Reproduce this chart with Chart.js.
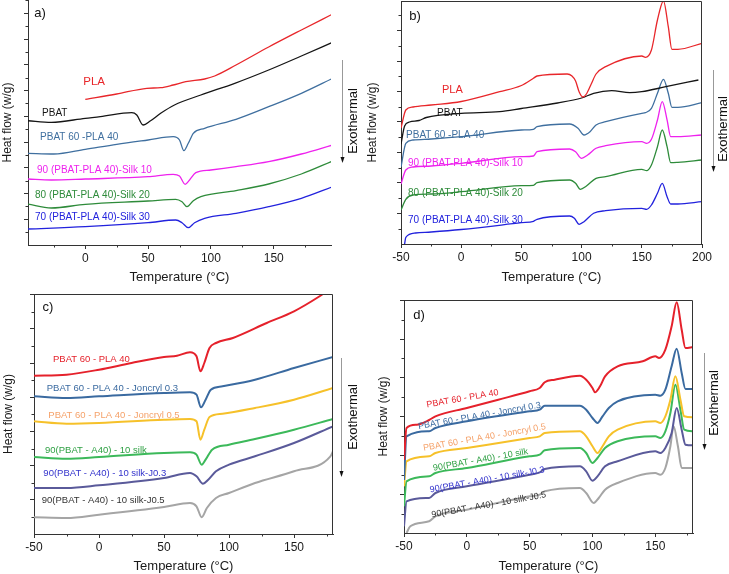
<!DOCTYPE html>
<html>
<head>
<meta charset="utf-8">
<script src="https://cdn.jsdelivr.net/npm/chart.js@4.4.0/dist/chart.umd.min.js"></script>
<style>
  body { margin: 0; background: #fff; width: 729px; height: 574px; overflow: hidden; position: relative; }
  canvas { position: absolute; }
</style>
</head>
<body>
<canvas id="chartA" width="365" height="287" style="left:0;top:0"></canvas>
<canvas id="chartB" width="364" height="287" style="left:365px;top:0"></canvas>
<canvas id="chartC" width="365" height="287" style="left:0;top:287px"></canvas>
<canvas id="chartD" width="364" height="287" style="left:365px;top:287px"></canvas>
<script>
// heat flow in arbitrary units (curves are offset, no y values printed)
// panel a) cooling
const a_PLA    = [[0,145.7],[25,151],[49,156.7],[60,157.3],[70,160],[80,163.3],[95,166],[103,169],[120,180],[146,198],[172,215],[197,231]];
const a_PBAT   = [[-46,124.3],[-27,122.7],[0,126.7],[12,128.3],[37,132.3],[41,130],[46,120],[52,124.3],[60,131.7],[71,140],[92,150],[119,161.7],[146,175],[172,189],[197,202.7]];
const a_blend  = [[-46,91.7],[-25,91],[0,95.7],[25,100.7],[50,105],[70,108.3],[75,105],[78.5,94.3],[82,101.7],[86,111.7],[95,116.7],[120,125.7],[146,138.3],[172,151.7],[197,166.7]];
const a_silk10 = [[-46,66],[-27,65],[0,66],[50,68.3],[70,70.7],[75,69],[79.5,60.7],[83,65],[88,72.3],[100,75],[120,78.3],[146,83.3],[172,91],[197,100]];
const a_silk20 = [[-46,41],[-27,37],[0,40.7],[50,44],[72,45.7],[77,43.3],[81,38.3],[86,44.3],[92,48.3],[120,54.3],[146,61],[172,71],[197,84]];
const a_silk30 = [[-46,16],[0,18.3],[50,22.3],[72,25],[77,22.3],[82,17.3],[87,22.3],[95,26.7],[120,31.7],[146,38.3],[172,46.7],[197,58.3]];

// panel b) second heating
const b_PLA    = [[-50,116],[-46,134],[-40,137],[-25,139],[0,142.5],[32,152.3],[50,158.5],[60,165.7],[63,168],[88,170],[92,168],[95,163],[98,152],[101,147],[104,150],[108,160],[112,170],[120,177.3],[150,188],[153,186.7],[158,194],[163,224],[168,243],[172,217.3],[175,194.7],[180,194.7],[200,200.7]];
const b_PBAT   = [[-50,100],[-47,118],[-43,122],[-35,123.5],[-29,126.5],[0,130.7],[32,132.3],[50,135.5],[80,141],[100,146],[110,150.7],[125,153.3],[140,151.3],[150,152.3],[170,157.3],[197,164]];
const b_blend  = [[-50,77],[-46,100.7],[-40,104],[-25,105],[0,107.3],[50,114],[60,114.7],[63,117.3],[90,120],[97,115.7],[102,109],[107,112.3],[112,119],[120,122.3],[150,130.7],[153,131.3],[158,135.7],[163,150.7],[168,164.7],[172,150.7],[175,136.7],[180,136.7],[200,141.3]];
const b_silk10 = [[-50,60],[-46,74],[-40,77],[-25,78],[0,80.7],[50,87.3],[60,88],[63,92.3],[90,95],[95,92.3],[100,85.7],[105,89],[112,95.7],[120,98.3],[150,102.3],[154,100.7],[158,104.7],[163,124],[167,142.3],[171,124],[174,107.3],[180,107.3],[200,109]];
const b_silk20 = [[-50,34],[-46,44.7],[-40,49],[-25,50],[0,52.3],[50,58.3],[60,58.7],[63,61.3],[90,64],[95,60.7],[99,54.7],[104,58],[112,65.7],[120,67.3],[150,74.7],[154,73.3],[158,79],[163,97.3],[167,114],[171,97.3],[174,81.3],[180,81.7],[200,84]];
const b_silk30 = [[-47,0],[-46,6.7],[-38,11],[-25,12],[0,14.5],[50,21.3],[60,22.7],[63,24.7],[90,28],[94,25.7],[98,19.7],[102,22.3],[110,30.7],[120,33.3],[150,35.7],[154,34.7],[158,39],[163,50.7],[167,60.7],[171,47.3],[174,40],[180,40],[200,42.3]];

// panel c) cooling, Joncryl series
const c_blend   = [[-50,158.3],[-25,159.3],[0,164.3],[25,171],[50,177],[60,178.3],[70,181.7],[75,177.7],[78,162.7],[81,171],[85,186],[90,191],[103,196],[129,211],[150,222.7],[170,238],[180,247]];
const c_J03     = [[-50,137.7],[-25,136],[0,137.7],[50,141],[70,141.7],[75,139.3],[78.5,126.7],[82,134.3],[86,144.3],[95,147.7],[120,154.3],[150,166],[180,177]];
const c_J05     = [[-50,112.7],[-25,110.3],[0,111],[50,114.3],[70,115],[75,112.7],[78,94.3],[81,104.3],[85,117],[95,120.3],[120,126],[150,134.3],[180,146]];
const c_silk    = [[-50,77],[-25,75.3],[0,77],[50,81],[70,81.7],[75,79.3],[79,69.3],[82,74.3],[87,84.3],[100,89.3],[120,95],[150,104.3],[180,115]];
const c_silkJ03 = [[-50,46],[-25,46],[0,48.7],[50,56],[70,61],[75,57.7],[80,50.3],[84,54.3],[90,62.7],[100,69.3],[120,77.7],[150,91],[180,107.7]];
const c_silkJ05 = [[-50,16.7],[-25,16],[0,19.3],[50,27],[70,31],[75,27.7],[79,16.7],[83,26],[90,36],[100,41],[120,51],[150,62.7],[178,77.7],[180,82.7]];

// panel d) second heating, Joncryl series
const d_blend   = [[-50,73.3],[-48,105],[-40,108.3],[-30,113],[-25,116.7],[0,125],[25,133.3],[50,141.7],[58,145],[62,150.7],[70,153.3],[90,157.3],[95,153.3],[100,145],[102,140.7],[106,146.7],[110,156.7],[120,166.7],[140,171.7],[150,176.7],[153,175],[158,183.3],[163,206.7],[167,230.7],[171,203.3],[174,185],[180,186]];
const d_J03     = [[-50,53],[-48,96.7],[-30,101.7],[-25,105],[0,111.7],[50,121.7],[58,123.3],[62,127.3],[90,127.3],[95,123.3],[100,115],[104,110],[108,116.7],[113,125],[120,131.7],[150,138.3],[154,137.3],[158,143.3],[163,166.7],[167,184.3],[171,160],[174,144],[180,144]];
const d_J05     = [[-50,46.7],[-48,71.7],[-30,76.7],[-25,80],[0,85],[50,95],[58,96.7],[62,100],[90,101.7],[95,96.7],[100,86.7],[104,80],[108,86.7],[113,96.7],[120,103.3],[150,111.7],[154,110],[158,116.7],[162,133.3],[166,156.7],[170,133.3],[173,116.7],[180,115.7]];
const d_silk    = [[-50,26.7],[-48,51.7],[-30,56.7],[-25,60],[0,65],[50,76.7],[58,78.3],[62,82.7],[90,85],[95,80],[100,70],[104,75],[110,85],[120,91.7],[150,96.7],[154,95],[158,101.7],[162,120],[166,148.3],[170,123.3],[173,103.3],[180,101.7]];
const d_silkJ03 = [[-50,6.7],[-48,31.7],[-30,35],[-25,40],[0,46.7],[50,58.3],[58,60.7],[62,64],[90,66.7],[95,61.7],[100,52.3],[104,56.7],[110,66.7],[120,71.7],[150,81.7],[154,80],[158,85],[163,100],[167,125],[171,103.3],[174,88.3],[180,87.7]];
const d_silkJ05 = [[-48,0],[-45,6.7],[-30,11.7],[-25,16.7],[0,23.3],[50,36.7],[58,38.3],[62,41.7],[90,45],[95,40],[101,30],[105,35],[110,43.3],[120,50],[150,60],[154,58.3],[158,65],[162,86.7],[164.5,106.7],[168,86.7],[171,65],[180,65]];

const ticksAB = [-50, 0, 50, 100, 150, 200];
const ticksCD = [-50, 0, 50, 100, 150];
const minorX  = [-25, 25, 75, 125, 175];

const FONT = '"Liberation Sans", Arial, sans-serif';
const C1 = { red: '#e8262a', black: '#151515', steel: '#3f6f9f', magenta: '#ee22ee', green: '#2e8b3a', blue: '#2222dd' };
const C2 = { red: '#e5212b', steel: '#3a6aa0', yellow: '#f6c12a', green: '#3cb95a', slate: '#5a5a9a', grey: '#a5a5a5' };

const decor = {
  id: 'decor',
  afterDraw(chart, args, o) {
    const ctx = chart.ctx, ca = chart.chartArea, xs = chart.scales.x, ys = chart.scales.y;
    ctx.save();
    ctx.strokeStyle = '#333';
    ctx.lineWidth = 1;
    ctx.beginPath();
    if (o.frame) {
      ctx.moveTo(ca.left, ca.top + 0.5);
      ctx.lineTo(ca.right - 0.5, ca.top + 0.5);
      ctx.lineTo(ca.right - 0.5, ca.bottom);
    }
    // minor ticks
    minorX.forEach(v => {
      if (v < xs.min || v > xs.max) return;
      const px = Math.round(xs.getPixelForValue(v)) + 0.5;
      ctx.moveTo(px, ca.bottom); ctx.lineTo(px, ca.bottom + 2.5);
    });
    for (let v = o.yStep / 2; v < ys.max; v += o.yStep) {
      const py = Math.round(ys.getPixelForValue(v)) + 0.5;
      ctx.moveTo(ca.left, py); ctx.lineTo(ca.left - 2.5, py);
    }
    ctx.stroke();

    // curve labels
    o.labels.forEach(l => {
      ctx.save();
      ctx.font = l.size + 'px ' + FONT;
      ctx.fillStyle = l.color;
      ctx.textAlign = 'left';
      ctx.textBaseline = 'middle';
      ctx.translate(xs.getPixelForValue(l.x), ys.getPixelForValue(l.y));
      if (l.rot) ctx.rotate(l.rot * Math.PI / 180);
      ctx.fillText(l.text, 0, 0);
      ctx.restore();
    });

    // panel letter
    ctx.font = '13px ' + FONT;
    ctx.fillStyle = '#111';
    ctx.textAlign = 'center';
    ctx.textBaseline = 'middle';
    ctx.fillText(o.letter[0], o.letter[1], o.letter[2]);

    // exothermal arrow
    const e = o.exo;
    ctx.strokeStyle = '#999';
    ctx.beginPath();
    ctx.moveTo(e.x + 0.5, e.y1); ctx.lineTo(e.x + 0.5, e.y2 - 5);
    ctx.stroke();
    ctx.fillStyle = '#111';
    ctx.beginPath();
    ctx.moveTo(e.x - 1.5, e.y2 - 6); ctx.lineTo(e.x + 2.5, e.y2 - 6); ctx.lineTo(e.x + 0.5, e.y2);
    ctx.closePath(); ctx.fill();
    ctx.save();
    ctx.translate(e.tx, e.ty);
    ctx.rotate(-Math.PI / 2);
    ctx.font = '13px ' + FONT;
    ctx.fillStyle = '#111';
    ctx.fillText('Exothermal', 0, 0);
    ctx.restore();
    ctx.restore();
  }
};

function makeChart(id, p) {
  const yMajor = [];
  for (let v = p.yStep; v <= p.yMax; v += p.yStep) yMajor.push(v);
  return new Chart(document.getElementById(id), {
    type: 'line',
    data: {
      datasets: p.series.map(s => ({
        data: s[0].map(q => ({ x: q[0], y: q[1] })),
        borderColor: s[1],
        borderWidth: p.lw,
        pointRadius: 0,
        fill: false,
        cubicInterpolationMode: 'monotone'
      }))
    },
    options: {
      responsive: false,
      animation: false,
      layout: { padding: { top: p.padTop, right: p.padRight, left: 0, bottom: 0 } },
      plugins: {
        legend: { display: false },
        tooltip: { enabled: false },
        decor: { frame: p.frame, yStep: p.yStep, labels: p.labels, letter: p.letter, exo: p.exo }
      },
      scales: {
        x: {
          type: 'linear', min: p.xMin, max: p.xMax,
          afterBuildTicks: s => { s.ticks = p.xTicks.map(v => ({ value: v })); },
          afterFit: s => { s.height = p.bottomH; },
          grid: { drawOnChartArea: false, tickLength: 4, tickColor: '#333' },
          border: { color: '#333', width: 1 },
          ticks: { color: '#1a1a1a', font: { size: 12, family: FONT }, padding: 2, maxRotation: 0, autoSkip: false },
          title: { display: true, text: 'Temperature (\u00B0C)', color: '#1a1a1a', font: { size: 13, family: FONT }, padding: { top: 0, bottom: p.xTitlePad } }
        },
        y: {
          type: 'linear', min: 0, max: p.yMax,
          afterBuildTicks: s => { s.ticks = yMajor.map(v => ({ value: v })); },
          afterFit: s => { s.width = p.leftW; },
          grid: { drawOnChartArea: false, tickLength: 4, tickColor: '#333' },
          border: { color: '#333', width: 1 },
          ticks: { display: false },
          title: { display: true, text: 'Heat flow (w/g)', color: '#1a1a1a', font: { size: 12, family: FONT }, padding: { top: p.yTitlePad, bottom: 0 } }
        }
      }
    },
    plugins: [decor]
  });
}

makeChart('chartA', {
  series: [[a_PLA, C1.red], [a_PBAT, C1.black], [a_blend, C1.steel], [a_silk10, C1.magenta], [a_silk20, C1.green], [a_silk30, C1.blue]],
  lw: 1.3, xMin: -45.6, xMax: 195.6, xTicks: [0, 50, 100, 150], yMax: 245, yStep: 25.75,
  padTop: 0, padRight: 34, leftW: 28, bottomH: 42, xTitlePad: 2, yTitlePad: 0, frame: false,
  letter: ['a)', 40, 13],
  exo: { x: 342, y1: 60, y2: 163, tx: 353, ty: 121 },
  labels: [
    { text: 'PLA', x: -1.6, y: 163, color: C1.red, size: 11.5 },
    { text: 'PBAT', x: -34.4, y: 132, color: C1.black, size: 10 },
    { text: 'PBAT 60 -PLA 40', x: -36, y: 108, color: C1.steel, size: 10 },
    { text: '90 (PBAT-PLA 40)-Silk 10', x: -38.4, y: 75, color: C1.magenta, size: 10 },
    { text: '80 (PBAT-PLA 40)-Silk 20', x: -40, y: 50, color: C1.green, size: 10 },
    { text: '70 (PBAT-PLA 40)-Silk 30', x: -40, y: 28, color: C1.blue, size: 10 }
  ]
});

makeChart('chartB', {
  series: [[b_PLA, C1.red], [b_PBAT, C1.black], [b_blend, C1.steel], [b_silk10, C1.magenta], [b_silk20, C1.green], [b_silk30, C1.blue]],
  lw: 1.3, xMin: -50, xMax: 200, xTicks: ticksAB, yMax: 243, yStep: 30.5,
  padTop: 1, padRight: 27, leftW: 36, bottomH: 43, xTitlePad: 2, yTitlePad: 0, frame: true,
  letter: ['b)', 50, 16],
  exo: { x: 348, y1: 70, y2: 172, tx: 358, ty: 129 },
  labels: [
    { text: 'PLA', x: -16, y: 154, color: C1.red, size: 11 },
    { text: 'PBAT', x: -20, y: 131, color: C1.black, size: 10 },
    { text: 'PBAT 60 -PLA 40', x: -45.8, y: 109, color: C1.steel, size: 10 },
    { text: '90 (PBAT-PLA 40)-Silk 10', x: -44.2, y: 81, color: C1.magenta, size: 10 },
    { text: '80 (PBAT-PLA 40)-Silk 20', x: -44.2, y: 51, color: C1.green, size: 10 },
    { text: '70 (PBAT-PLA 40)-Silk 30', x: -44.2, y: 24, color: C1.blue, size: 10 }
  ]
});

makeChart('chartC', {
  series: [[c_blend, C2.red], [c_J03, C2.steel], [c_J05, C2.yellow], [c_silk, C2.green], [c_silkJ03, C2.slate], [c_silkJ05, C2.grey]],
  lw: 2, xMin: -50, xMax: 180, xTicks: ticksCD, yMax: 240, yStep: 34.2,
  padTop: 7, padRight: 32, leftW: 34, bottomH: 40, xTitlePad: 0, yTitlePad: 1, frame: true,
  letter: ['c)', 48, 20],
  exo: { x: 341, y1: 71, y2: 190, tx: 353, ty: 130 },
  labels: [
    { text: 'PBAT 60 - PLA 40', x: -35.4, y: 175, color: '#e5212b', size: 9.5 },
    { text: 'PBAT 60 - PLA 40 - Joncryl 0.3', x: -40.2, y: 145.7, color: '#3a6aa0', size: 9.5 },
    { text: 'PBAT 60 - PLA 40 - Joncryl 0.5', x: -39, y: 119, color: '#f5a26a', size: 9.5 },
    { text: '90(PBAT - A40) - 10 silk', x: -41.5, y: 84, color: '#2ea043', size: 9.5 },
    { text: '90(PBAT - A40) - 10 silk-J0.3', x: -42.8, y: 60.7, color: '#3333cc', size: 9.5 },
    { text: '90(PBAT - A40) - 10 silk-J0.5', x: -44, y: 34, color: '#333333', size: 9.5 }
  ]
});

makeChart('chartD', {
  series: [[d_blend, C2.red], [d_J03, C2.steel], [d_J05, C2.yellow], [d_silk, C2.green], [d_silkJ03, C2.slate], [d_silkJ05, C2.grey]],
  lw: 2, xMin: -50, xMax: 180, xTicks: ticksCD, yMax: 233, yStep: 38.8,
  padTop: 13, padRight: 36, leftW: 39, bottomH: 41, xTitlePad: 0, yTitlePad: 11, frame: true,
  letter: ['d)', 54, 28],
  exo: { x: 339, y1: 66, y2: 163, tx: 349, ty: 116 },
  labels: [
    { text: 'PBAT 60 - PLA 40', x: -32, y: 128, color: '#e5212b', size: 9, rot: -10 },
    { text: 'PBAT 60 - PLA 40 - Joncryl 0.3', x: -38.7, y: 106.3, color: '#3a6aa0', size: 9, rot: -10 },
    { text: 'PBAT 60 - PLA 40 - Joncryl 0.5', x: -34.7, y: 84.7, color: '#f5a26a', size: 9, rot: -10 },
    { text: '90(PBAT - A40) - 10 silk', x: -26.8, y: 64.7, color: '#2ea043', size: 9, rot: -10 },
    { text: '90(PBAT - A40) - 10 silk-J0.3', x: -29.4, y: 43, color: '#3333cc', size: 9, rot: -10 },
    { text: '90(PBAT - A40) - 10 silk-J0.5', x: -28.1, y: 18, color: '#333333', size: 9, rot: -10 }
  ]
});
</script>
</body>
</html>
